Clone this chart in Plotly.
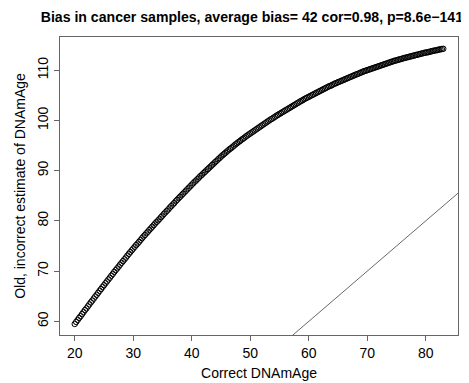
import plotly.graph_objects as go

correct_age = [
    20.0, 20.25, 20.5, 20.75, 21.0, 21.25, 21.5, 21.75,
    22.0, 22.25, 22.5, 22.75, 23.0, 23.25, 23.5, 23.75,
    24.0, 24.25, 24.5, 24.75, 25.0, 25.25, 25.5, 25.75,
    26.0, 26.25, 26.5, 26.75, 27.0, 27.25, 27.5, 27.75,
    28.0, 28.25, 28.5, 28.75, 29.0, 29.25, 29.5, 29.75,
    30.0, 30.25, 30.5, 30.75, 31.0, 31.25, 31.5, 31.75,
    32.0, 32.25, 32.5, 32.75, 33.0, 33.25, 33.5, 33.75,
    34.0, 34.25, 34.5, 34.75, 35.0, 35.25, 35.5, 35.75,
    36.0, 36.25, 36.5, 36.75, 37.0, 37.25, 37.5, 37.75,
    38.0, 38.25, 38.5, 38.75, 39.0, 39.25, 39.5, 39.75,
    40.0, 40.25, 40.5, 40.75, 41.0, 41.25, 41.5, 41.75,
    42.0, 42.25, 42.5, 42.75, 43.0, 43.25, 43.5, 43.75,
    44.0, 44.25, 44.5, 44.75, 45.0, 45.25, 45.5, 45.75,
    46.0, 46.25, 46.5, 46.75, 47.0, 47.25, 47.5, 47.75,
    48.0, 48.25, 48.5, 48.75, 49.0, 49.25, 49.5, 49.75,
    50.0, 50.25, 50.5, 50.75, 51.0, 51.25, 51.5, 51.75,
    52.0, 52.25, 52.5, 52.75, 53.0, 53.25, 53.5, 53.75,
    54.0, 54.25, 54.5, 54.75, 55.0, 55.25, 55.5, 55.75,
    56.0, 56.25, 56.5, 56.75, 57.0, 57.25, 57.5, 57.75,
    58.0, 58.25, 58.5, 58.75, 59.0, 59.25, 59.5, 59.75,
    60.0, 60.25, 60.5, 60.75, 61.0, 61.25, 61.5, 61.75,
    62.0, 62.25, 62.5, 62.75, 63.0, 63.25, 63.5, 63.75,
    64.0, 64.25, 64.5, 64.75, 65.0, 65.25, 65.5, 65.75,
    66.0, 66.25, 66.5, 66.75, 67.0, 67.25, 67.5, 67.75,
    68.0, 68.25, 68.5, 68.75, 69.0, 69.25, 69.5, 69.75,
    70.0, 70.25, 70.5, 70.75, 71.0, 71.25, 71.5, 71.75,
    72.0, 72.25, 72.5, 72.75, 73.0, 73.25, 73.5, 73.75,
    74.0, 74.25, 74.5, 74.75, 75.0, 75.25, 75.5, 75.75,
    76.0, 76.25, 76.5, 76.75, 77.0, 77.25, 77.5, 77.75,
    78.0, 78.25, 78.5, 78.75, 79.0, 79.25, 79.5, 79.75,
    80.0, 80.25, 80.5, 80.75, 81.0, 81.25, 81.5, 81.75,
    82.0, 82.25, 82.5, 82.75, 83.0,
]
old_estimate = [
    59.5, 59.9, 60.3, 60.7, 61.05, 61.45, 61.85, 62.25,
    62.6, 63.0, 63.4, 63.8, 64.15, 64.55, 64.95, 65.3,
    65.7, 66.1, 66.45, 66.85, 67.2, 67.6, 67.95, 68.35,
    68.7, 69.1, 69.45, 69.85, 70.2, 70.55, 70.9, 71.3,
    71.65, 72.0, 72.35, 72.7, 73.1, 73.45, 73.8, 74.15,
    74.5, 74.85, 75.2, 75.5, 75.85, 76.2, 76.55, 76.9,
    77.2, 77.55, 77.85, 78.2, 78.5, 78.85, 79.15, 79.5,
    79.8, 80.1, 80.4, 80.75, 81.05, 81.4, 81.7, 82.0,
    82.3, 82.65, 82.95, 83.25, 83.55, 83.9, 84.2, 84.5,
    84.8, 85.1, 85.4, 85.7, 86.0, 86.3, 86.6, 86.9,
    87.2, 87.5, 87.8, 88.05, 88.35, 88.65, 88.95, 89.2,
    89.5, 89.75, 90.05, 90.3, 90.6, 90.85, 91.15, 91.4,
    91.7, 91.95, 92.25, 92.5, 92.8, 93.05, 93.3, 93.55,
    93.8, 94.05, 94.3, 94.5, 94.75, 95.0, 95.25, 95.45,
    95.7, 95.9, 96.15, 96.35, 96.55, 96.8, 97.0, 97.2,
    97.4, 97.6, 97.8, 98.0, 98.2, 98.4, 98.6, 98.8,
    99.0, 99.2, 99.4, 99.6, 99.8, 100.0, 100.2, 100.35,
    100.55, 100.75, 100.95, 101.1, 101.3, 101.45, 101.65, 101.8,
    102.0, 102.15, 102.35, 102.5, 102.7, 102.85, 103.05, 103.2,
    103.4, 103.55, 103.75, 103.9, 104.05, 104.25, 104.4, 104.55,
    104.7, 104.85, 105.0, 105.15, 105.3, 105.45, 105.6, 105.75,
    105.9, 106.05, 106.2, 106.35, 106.5, 106.65, 106.8, 106.9,
    107.05, 107.2, 107.35, 107.45, 107.6, 107.7, 107.85, 107.95,
    108.1, 108.2, 108.35, 108.45, 108.6, 108.7, 108.85, 108.95,
    109.1, 109.2, 109.3, 109.45, 109.55, 109.7, 109.8, 109.9,
    110.0, 110.1, 110.2, 110.3, 110.4, 110.5, 110.6, 110.7,
    110.8, 110.9, 111.0, 111.1, 111.2, 111.3, 111.4, 111.5,
    111.6, 111.7, 111.8, 111.9, 111.95, 112.05, 112.15, 112.2,
    112.3, 112.4, 112.45, 112.55, 112.6, 112.7, 112.75, 112.85,
    112.9, 113.0, 113.05, 113.15, 113.2, 113.3, 113.35, 113.45,
    113.5, 113.55, 113.6, 113.7, 113.75, 113.85, 113.9, 113.95,
    114.0, 114.1, 114.15, 114.2, 114.25,
]
identity_line = [0, 200]          # abline(0, 1)
x_ticks = [20, 30, 40, 50, 60, 70, 80]
y_ticks = [60, 70, 80, 90, 100, 110]

title_text = "Bias in cancer samples, average bias= 42 cor=0.98, p=8.6e\u2212141"
x_title = "Correct DNAmAge"
y_title = "Old, incorrect estimate of DNAmAge"

FONT = "Liberation Sans, Arial, Helvetica, sans-serif"

fig = go.Figure()
fig.add_trace(go.Scatter(
    x=identity_line, y=identity_line, mode="lines",
    line=dict(color="black", width=0.6), showlegend=False, hoverinfo="skip",
))
fig.add_trace(go.Scatter(
    x=correct_age, y=old_estimate, mode="markers",
    marker=dict(symbol="circle-open", size=5.5, color="black",
                line=dict(color="black", width=1.0)),
    showlegend=False,
))

axis_common = dict(
    showline=True, mirror=True, linecolor="#666666", linewidth=1,
    ticks="outside", ticklen=5, tickcolor="#666666", tickwidth=1,
    showgrid=False, zeroline=False,
    tickfont=dict(family=FONT, size=14, color="black"),
)

fig.update_layout(
    width=469, height=383,
    margin=dict(l=49, r=19, t=29, b=49),
    paper_bgcolor="white", plot_bgcolor="white",
    title=dict(text=title_text, x=0.52, xanchor="center", y=0.977, yanchor="middle",
               font=dict(family=FONT, size=14.1, color="black", weight="bold")),
    xaxis=dict(range=[17.48, 85.52], tickvals=x_ticks,
               title=dict(text=x_title, font=dict(family=FONT, size=14, color="black"), standoff=8),
               **axis_common),
    yaxis=dict(range=[57.3, 116.6], tickvals=y_ticks, tickangle=-90,
               title=dict(text=y_title, font=dict(family=FONT, size=14, color="black"), standoff=6),
               **axis_common),
)

fig.write_html("out.html")
